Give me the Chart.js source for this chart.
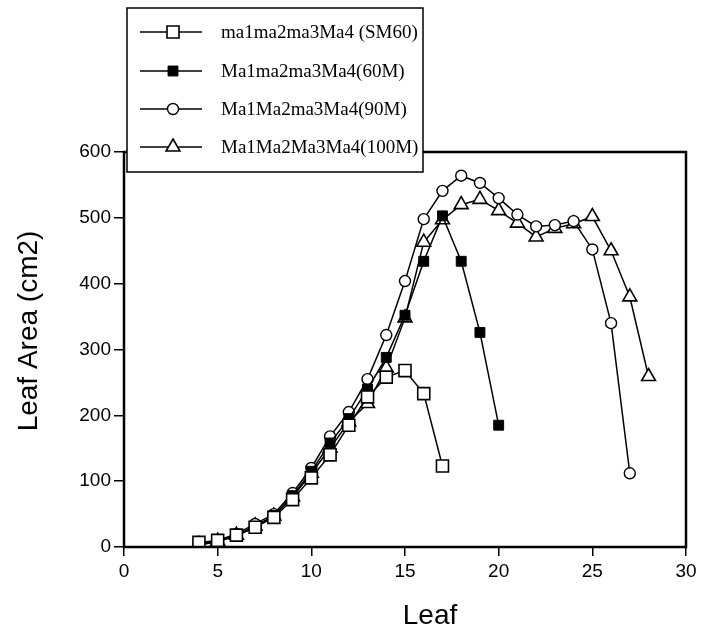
<!DOCTYPE html>
<html>
<head>
<meta charset="utf-8">
<script src="https://cdn.jsdelivr.net/npm/chart.js@4"></script>
<style>
  html, body { margin: 0; padding: 0; background: #fff; }
  #wrap { width: 702px; height: 628px; }
</style>
</head>
<body>
<div id="wrap"><canvas id="LeafChart" width="702" height="628"></canvas></div>
<script>
// leaf number (x) and leaf area (y) for each line
var leafSM60 = [4, 5, 6, 7, 8, 9, 10, 11, 12, 13, 14, 15, 16, 17];
var areaSM60 = [7, 10, 18, 30, 45, 72, 105, 140, 185, 228, 258, 268, 233, 123];

var leaf60M = [4, 5, 6, 7, 8, 9, 10, 11, 12, 13, 14, 15, 16, 17, 18, 19, 20];
var area60M = [3, 8, 17, 30, 48, 78, 115, 158, 195, 240, 288, 352, 434, 503, 434, 326, 185];

var leaf90M = [4, 5, 6, 7, 8, 9, 10, 11, 12, 13, 14, 15, 16, 17, 18, 19, 20, 21, 22, 23, 24, 25, 26, 27];
var area90M = [5, 10, 20, 35, 50, 82, 120, 168, 205, 255, 322, 404, 498, 541, 564, 553, 530, 505, 487, 489, 495, 452, 340, 112];

var leaf100M = [4, 5, 6, 7, 8, 9, 10, 11, 12, 13, 14, 15, 16, 17, 18, 19, 20, 21, 22, 23, 24, 25, 26, 27, 28];
var area100M = [4, 9, 18, 32, 47, 76, 112, 150, 190, 218, 272, 348, 463, 497, 520, 528, 511, 492, 471, 484, 491, 502, 450, 380, 259];

var seriesNames = ['ma1ma2ma3Ma4 (SM60)', 'Ma1ma2ma3Ma4(60M)', 'Ma1Ma2ma3Ma4(90M)', 'Ma1Ma2Ma3Ma4(100M)'];
var xTicks = [0, 5, 10, 15, 20, 25, 30];
var yTicks = [0, 100, 200, 300, 400, 500, 600];
var xTitle = 'Leaf';
var yTitle = 'Leaf Area (cm2)';

function pts(xs, ys) {
  var out = [];
  for (var i = 0; i < xs.length; i++) {
    out.push({ x: xs[i], y: ys[i] });
  }
  return out;
}

var data = {
  datasets: [{
      label: seriesNames[0],
      data: pts(leafSM60, areaSM60),
      pointStyle: 'rect',
      pointRadius: 8.5,
      backgroundColor: '#fff',
      borderColor: '#000',
      borderWidth: 1.5,
      pointBorderWidth: 1.6
    },
    {
      label: seriesNames[1],
      data: pts(leaf60M, area60M),
      pointStyle: 'rect',
      pointRadius: 7,
      backgroundColor: '#000',
      borderColor: '#000',
      borderWidth: 1.5,
      pointBorderWidth: 1
    },
    {
      label: seriesNames[2],
      data: pts(leaf90M, area90M),
      pointStyle: 'circle',
      pointRadius: 5.5,
      backgroundColor: '#fff',
      borderColor: '#000',
      borderWidth: 1.5,
      pointBorderWidth: 1.4
    },
    {
      label: seriesNames[3],
      data: pts(leaf100M, area100M),
      pointStyle: 'triangle',
      pointRadius: 8,
      backgroundColor: '#fff',
      borderColor: '#000',
      borderWidth: 1.5,
      pointBorderWidth: 1.6
    }
  ]
};

var sansTitle = '28px "Liberation Sans", Arial, sans-serif';

// frame round the plot, axis titles, and the legend box sitting over the top-left corner
var framePlugin = {
  id: 'frame',
  afterDraw: function(chart) {
    var ctx = chart.ctx;
    var a = chart.chartArea;
    ctx.save();
    ctx.strokeStyle = '#000';
    ctx.lineWidth = 2.5;
    ctx.strokeRect(a.left, a.top, a.right - a.left, a.bottom - a.top);

    // axis titles (the original sets "Leaf" a bit right of centre)
    ctx.fillStyle = '#000';
    ctx.font = sansTitle;
    ctx.textAlign = 'center';
    ctx.textBaseline = 'alphabetic';
    ctx.fillText(xTitle, 430, 624);
    ctx.save();
    ctx.translate(37, 331);
    ctx.rotate(-Math.PI / 2);
    ctx.fillText(yTitle, 0, 0);
    ctx.restore();

    // legend
    var bx = 127, by = 8, bw = 296, bh = 164;
    ctx.fillStyle = '#fff';
    ctx.fillRect(bx, by, bw, bh);
    ctx.lineWidth = 1.5;
    ctx.strokeRect(bx, by, bw, bh);
    var rows = [32, 71, 109, 147];
    ctx.font = '19px "Liberation Serif", "Times New Roman", serif';
    ctx.textAlign = 'left';
    ctx.textBaseline = 'middle';
    for (var i = 0; i < chart.data.datasets.length; i++) {
      var ds = chart.data.datasets[i];
      var y = rows[i];
      ctx.strokeStyle = '#000';
      ctx.lineWidth = 1.5;
      ctx.beginPath();
      ctx.moveTo(140, y);
      ctx.lineTo(202, y);
      ctx.stroke();
      ctx.fillStyle = ds.backgroundColor;
      ctx.lineWidth = ds.pointBorderWidth;
      Chart.helpers.drawPoint(ctx, { pointStyle: ds.pointStyle, radius: ds.pointRadius, borderWidth: ds.pointBorderWidth }, 173, y);
      ctx.fillStyle = '#000';
      ctx.fillText(ds.label, 221, y + 1);
    }
    ctx.restore();
  }
};

var tickFont = { family: '"Liberation Sans", Arial, sans-serif', size: 19 };

var options = {
  responsive: false,
  animation: false,
  layout: { padding: { top: 152, right: 16, left: 0, bottom: 0 } },
  plugins: { legend: { display: false }, tooltip: { enabled: false } },
  elements: { line: { tension: 0 } },
  scales: {
    x: {
      type: 'linear',
      min: 0,
      max: 30,
      afterBuildTicks: function(s) { s.ticks = xTicks.map(function(v) { return { value: v }; }); },
      afterFit: function(s) { s.height = 81; },
      grid: { drawOnChartArea: false, tickLength: 9, color: '#000', lineWidth: 1.5 },
      border: { display: false },
      ticks: { font: tickFont, color: '#000', padding: 4, maxRotation: 0 }
    },
    y: {
      min: 0,
      max: 600,
      afterBuildTicks: function(s) { s.ticks = yTicks.map(function(v) { return { value: v }; }); },
      afterFit: function(s) { s.width = 124; },
      grid: { drawOnChartArea: false, tickLength: 10, color: '#000', lineWidth: 1.5 },
      border: { display: false },
      ticks: { font: tickFont, color: '#000', padding: 3 }
    }
  }
};

var ctx = document.getElementById('LeafChart');
var LeafChart = new Chart(ctx, {
  type: 'line',
  data: data,
  options: options,
  plugins: [framePlugin]
});
</script>
</body>
</html>
